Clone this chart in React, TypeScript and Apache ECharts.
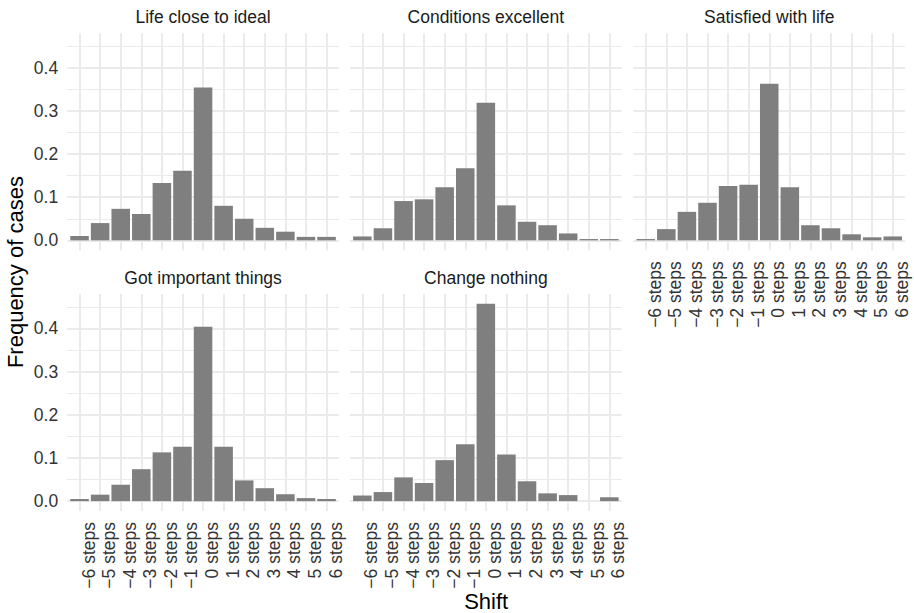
import React, { useEffect, useRef } from "react";
import * as echarts from "echarts";

// ---- Data ----
const shiftLabels = [
  "−6 steps", "−5 steps", "−4 steps", "−3 steps", "−2 steps", "−1 steps",
  "0 steps", "1 steps", "2 steps", "3 steps", "4 steps", "5 steps", "6 steps",
];
const shiftValues = [-6, -5, -4, -3, -2, -1, 0, 1, 2, 3, 4, 5, 6];

const panelTitles = [
  "Life close to ideal",
  "Conditions excellent",
  "Satisfied with life",
  "Got important things",
  "Change nothing",
];

const lifeCloseToIdeal = [0.010, 0.040, 0.073, 0.061, 0.133, 0.161, 0.354, 0.080, 0.050, 0.029, 0.020, 0.008, 0.008];
const conditionsExcellent = [0.009, 0.028, 0.091, 0.095, 0.123, 0.167, 0.319, 0.081, 0.043, 0.035, 0.016, 0.003, 0.003];
const satisfiedWithLife = [0.003, 0.026, 0.066, 0.087, 0.126, 0.129, 0.363, 0.123, 0.035, 0.028, 0.014, 0.007, 0.009];
const gotImportantThings = [0.005, 0.015, 0.038, 0.074, 0.113, 0.126, 0.404, 0.126, 0.048, 0.030, 0.016, 0.007, 0.005];
const changeNothing = [0.013, 0.021, 0.055, 0.042, 0.095, 0.132, 0.457, 0.108, 0.046, 0.018, 0.014, 0, 0.009];

const yTickLabels = [0, 0.1, 0.2, 0.3, 0.4];
const yGridValues = [0, 0.05, 0.1, 0.15, 0.2, 0.25, 0.3, 0.35, 0.4, 0.45];

const xTitle = "Shift";
const yTitle = "Frequency of cases";

// ---- Layout (styles, not data) ----
const FONT = '"Liberation Sans", Arial, Helvetica, sans-serif';
const COL_LEFTS = [67.2, 350, 633.4];
const PANEL_W = 271.7;
const ROW_TOPS = [33.2, 294];
const PANEL_H = 217;
const AXIS_FS = 17.5;
const STRIP_FS = 17.5;
const TITLE_FS = 22;
const AXIS_TEXT_COLOR = "#333333";

export default function App() {
  const ref = useRef<HTMLDivElement>(null);

  useEffect(() => {
    if (!ref.current) return;
    const chart = echarts.init(ref.current, undefined, { renderer: "svg" });

    const seriesValues = [lifeCloseToIdeal, conditionsExcellent, satisfiedWithLife, gotImportantThings, changeNothing];
    const panelPos = [
      { row: 0, col: 0 },
      { row: 0, col: 1 },
      { row: 0, col: 2 },
      { row: 1, col: 0 },
      { row: 1, col: 1 },
    ];
    const showYLabels = [true, false, false, true, false];
    const showXLabels = [false, false, true, true, true];

    const allVals = seriesValues.flat();
    const yMaxData = Math.max(...allVals);
    const yMinData = Math.min(0, ...allVals);
    const ySpan = yMaxData - yMinData;
    const yMin = yMinData - ySpan * 0.05;
    const yMax = yMaxData + ySpan * 0.05;
    const xMin = Math.min(...shiftValues) - 0.6;
    const xMax = Math.max(...shiftValues) + 0.6;

    const grids = panelPos.map((p) => ({
      left: COL_LEFTS[p.col],
      top: ROW_TOPS[p.row],
      width: PANEL_W,
      height: PANEL_H,
      containLabel: false,
    }));

    const xAxes = panelPos.map((_, i) => ({
      type: "value",
      gridIndex: i,
      min: xMin,
      max: xMax,
      axisLine: { show: false },
      axisTick: { show: false },
      splitLine: { show: false },
      axisLabel: {
        show: showXLabels[i],
        customValues: shiftValues,
        rotate: 90,
        verticalAlign: "top",
        margin: 11,
        color: AXIS_TEXT_COLOR,
        fontSize: AXIS_FS,
        fontFamily: FONT,
        formatter: (v: number) => {
          const k = shiftValues.indexOf(Math.round(v));
          return k >= 0 ? shiftLabels[k] : "";
        },
      },
    }));

    const yAxes = panelPos.map((_, i) => ({
      type: "value",
      gridIndex: i,
      min: yMin,
      max: yMax,
      axisLine: { show: false },
      axisTick: { show: false },
      splitLine: { show: false },
      axisLabel: {
        show: showYLabels[i],
        customValues: yTickLabels,
        margin: 9,
        color: AXIS_TEXT_COLOR,
        fontSize: AXIS_FS,
        fontFamily: FONT,
        formatter: (v: number) => v.toFixed(1),
      },
    }));

    const series = seriesValues.map((vals, i) => ({
      type: "bar",
      xAxisIndex: i,
      yAxisIndex: i,
      z: 2,
      silent: true,
      barWidth: "90%",
      itemStyle: { color: "#7F7F7F" },
      data: shiftValues.map((x, k) => [x, vals[k]]),
      markLine: {
        silent: true,
        z: 1,
        animation: false,
        symbol: ["none", "none"],
        label: { show: false },
        emphasis: { disabled: true },
        data: [
          ...yGridValues.map((v, k) => ({
            yAxis: v,
            lineStyle: { color: "#EBEBEB", width: k % 2 === 0 ? 2 : 1, type: "solid" },
          })),
          ...shiftValues.map((v) => ({
            xAxis: v,
            lineStyle: { color: "#EBEBEB", width: 2, type: "solid" },
          })),
        ],
      },
    }));

    const stripTexts = panelPos.map((p, i) => ({
      type: "text",
      x: COL_LEFTS[p.col] + PANEL_W / 2,
      y: p.row === 0 ? 16.7 : 277.8,
      style: {
        text: panelTitles[i],
        textAlign: "center",
        textVerticalAlign: "middle",
        fontSize: STRIP_FS,
        fontFamily: FONT,
        fill: "#1A1A1A",
      },
    }));

    const plotLeft = COL_LEFTS[0];
    const plotRight = COL_LEFTS[2] + PANEL_W;
    const plotTop = ROW_TOPS[0];
    const plotBottom = ROW_TOPS[1] + PANEL_H;

    chart.setOption({
      animation: false,
      backgroundColor: "#FFFFFF",
      grid: grids,
      xAxis: xAxes,
      yAxis: yAxes,
      series,
      graphic: [
        ...stripTexts,
        {
          type: "text",
          x: (plotLeft + plotRight) / 2,
          y: 601.3,
          style: {
            text: xTitle,
            textAlign: "center",
            textVerticalAlign: "middle",
            fontSize: TITLE_FS,
            fontFamily: FONT,
            fill: "#000000",
          },
        },
        {
          type: "text",
          x: 15,
          y: (plotTop + plotBottom) / 2,
          rotation: Math.PI / 2,
          style: {
            text: yTitle,
            textAlign: "center",
            textVerticalAlign: "middle",
            fontSize: TITLE_FS,
            fontFamily: FONT,
            fill: "#000000",
          },
        },
      ],
    });

    return () => chart.dispose();
  }, []);

  return <div ref={ref} style={{ position: "absolute", left: 0, top: 0, width: 914, height: 613 }} />;
}
